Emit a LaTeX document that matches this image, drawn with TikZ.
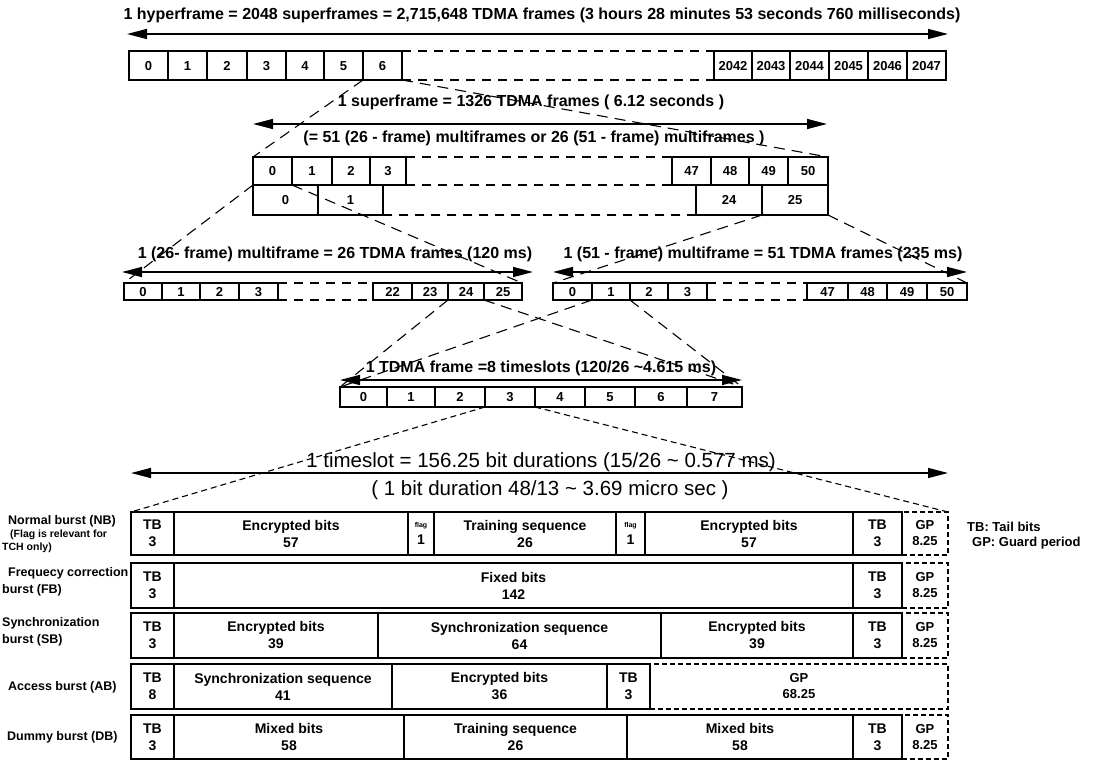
\documentclass[tikz,border=0pt]{standalone}
\usepackage{fontspec}
\setmainfont{Liberation Sans}
\usetikzlibrary{arrows.meta}
\newcommand\mkcell[7]{\node[#6,minimum width={#3-#2},minimum height={#5-#4},anchor=north west] (#1) at (#2,#4) {#7};}
\begin{document}
\begin{tikzpicture}[x=1pt,y=-1pt,
  boxbase/.style={draw,line width=1.1pt,inner sep=0pt,outer sep=0pt,align=center},
  cellbox/.style={boxbase,font=\bfseries\fontsize{13}{15}\selectfont,text height=9.4pt,text depth=0pt},
  bcellbox/.style={boxbase,font=\bfseries\fontsize{14}{17}\selectfont,execute at begin node={\vphantom{d}}},
  gpcellbox/.style={boxbase,dash pattern=on 5pt off 3pt,font=\bfseries\fontsize{13}{16}\selectfont,execute at begin node={\vphantom{d}}},
  captext/.style={font=\bfseries\fontsize{16}{19}\selectfont,inner sep=0pt},
  bigcaptext/.style={font=\fontsize{20.5}{24}\selectfont,inner sep=0pt},
  sidelbl/.style={font=\bfseries\fontsize{12.5}{15}\selectfont,inner sep=0pt,anchor=west},
  sidesmalllbl/.style={font=\bfseries\fontsize{10.5}{12}\selectfont,inner sep=0pt,anchor=west},
  legendlbl/.style={font=\bfseries\fontsize{13}{15}\selectfont,inner sep=0pt,anchor=west},
  dimarrow/.style={line width=1.5pt,{Triangle[length=20pt,width=10pt]}-{Triangle[length=20pt,width=10pt]}},
  rowdash/.style={line width=1.1pt,dash pattern=on 9pt off 7pt},
  connline/.style={line width=1.1pt,dash pattern=on 11pt off 7pt},
  bconnline/.style={line width=1.1pt,dash pattern=on 6pt off 4pt}]
\path[use as bounding box] (0,0) rectangle (1096,762);

% ---------- hyperframe ----------
\node[captext] (title) at (542,15) {1 hyperframe = 2048 superframes = 2,715,648 TDMA frames (3 hours 28 minutes 53 seconds 760 milliseconds)};
\coordinate (hl) at (127,34); \coordinate (hr) at (948,34);
\draw[dimarrow] (hl) -- (hr);
\foreach \n/\a/\b in {0/129/168,1/168/207,2/207/247,3/247/286,4/286/324,5/324/363,6/363/402,2042/714/752,2043/752/790,2044/790/829,2045/829/868,2046/868/907,2047/907/946}
  {\mkcell{h\n}{\a}{\b}{51}{80}{cellbox}{\n}}
\draw[rowdash] (h6.north east) -- (h2042.north west);
\draw[rowdash] (h6.south east) -- (h2042.south west);

% ---------- superframe ----------
\node[captext] (sl1) at (531,102) {1 superframe = 1326 TDMA frames ( 6.12 seconds )};
\coordinate (sal) at (253,124); \coordinate (sar) at (827,124);
\draw[dimarrow] (sal) -- (sar);
\node[captext] (sl2) at (534,138) {(= 51 (26 - frame) multiframes or 26 (51 - frame) multiframes )};
\foreach \n/\a/\b in {0/253/292,1/292/332,2/332/370,3/370/406,47/672/711,48/711/749,49/749/788,50/788/828}
  {\mkcell{sa\n}{\a}{\b}{157}{185}{cellbox}{\n}}
\foreach \n/\a/\b in {0/253/318,1/318/383,24/696/762,25/762/828}
  {\mkcell{sb\n}{\a}{\b}{185}{215}{cellbox}{\n}}
\draw[rowdash] (sa3.north east) -- (sa47.north west);
\draw[rowdash] (sa3.south east) -- (sa47.south west);
\draw[rowdash] (sb1.south east) -- (sb24.south west);
\draw[connline] (h6.south west) -- (sa0.north west);
\draw[connline] (h6.south east) -- (sa50.north east);

% ---------- multiframes ----------
\node[captext] (ml1) at (335,254) {1 (26- frame) multiframe = 26 TDMA frames (120 ms)};
\coordinate (mal) at (122,272); \coordinate (mar) at (533,272);
\draw[dimarrow] (mal) -- (mar);
\foreach \n/\a/\b in {0/124/162,1/162/200,2/200/239,3/239/278,22/373/412,23/412/448,24/448/484,25/484/522}
  {\mkcell{ma\n}{\a}{\b}{283}{300}{cellbox}{\n}}
\draw[rowdash] (ma3.north east) -- (ma22.north west);
\draw[rowdash] (ma3.south east) -- (ma22.south west);

\node[captext] (ml2) at (763,254) {1 (51 - frame) multiframe = 51 TDMA frames (235 ms)};
\coordinate (mbl) at (553,272); \coordinate (mbr) at (967,272);
\draw[dimarrow] (mbl) -- (mbr);
\foreach \n/\a/\b in {0/553/592,1/592/630,2/630/668,3/668/707,47/807/848,48/848/887,49/887/927,50/927/967}
  {\mkcell{mb\n}{\a}{\b}{283}{300}{cellbox}{\n}}
\draw[rowdash] (mb3.north east) -- (mb47.north west);
\draw[rowdash] (mb3.south east) -- (mb47.south west);

\draw[connline] (sa0.south west) -- (ma0.north west);
\draw[connline] (sa0.south east) -- (ma25.north east);
\draw[connline] (sb25.south west) -- (mb0.north west);
\draw[connline] (sb25.south east) -- (mb50.north east);

% ---------- TDMA frame ----------
\node[captext] (tl) at (541,368) {1 TDMA frame =8 timeslots (120/26 \textasciitilde4.615 ms)};
\coordinate (tal) at (340,380); \coordinate (tar) at (742,380);
\draw[dimarrow] (tal) -- (tar);
\foreach \n/\a/\b in {0/340/387,1/387/435,2/435/485,3/485/535,4/535/585,5/585/635,6/635/687,7/687/742}
  {\mkcell{t\n}{\a}{\b}{387}{407}{cellbox}{\n}}
\draw[connline] (ma24.south west) -- (t0.north west);
\draw[connline] (ma24.south east) -- (t7.north east);
\draw[connline] (mb1.south west) -- (t0.north west);
\draw[connline] (mb1.south east) -- (t7.north east);

% ---------- timeslot ----------
\node[bigcaptext] (bl1) at (541,462) {1 timeslot = 156.25 bit durations (15/26 \textasciitilde\ 0.577 ms)};
\coordinate (bal) at (131,473); \coordinate (bar) at (948,473);
\draw[dimarrow] (bal) -- (bar);
\node[bigcaptext] (bl2) at (550,490) {( 1 bit duration 48/13 \textasciitilde\ 3.69 micro sec )};

% Normal burst
\mkcell{nb1}{131}{174}{512}{555}{bcellbox}{TB\\3}
\mkcell{nb2}{174}{408}{512}{555}{bcellbox}{Encrypted bits\\57}
\mkcell{nb3}{408}{434}{512}{555}{bcellbox}{{\fontsize{7}{8}\selectfont flag}\\1}
\mkcell{nb4}{434}{616}{512}{555}{bcellbox}{Training sequence\\26}
\mkcell{nb5}{616}{645}{512}{555}{bcellbox}{{\fontsize{7}{8}\selectfont flag}\\1}
\mkcell{nb6}{645}{853}{512}{555}{bcellbox}{Encrypted bits\\57}
\mkcell{nb7}{853}{902}{512}{555}{bcellbox}{TB\\3}
\mkcell{nb8}{902}{948}{512}{555}{gpcellbox}{GP\\8.25}
\draw[bconnline] (t3.south west) -- (nb1.north west);
\draw[bconnline] (t3.south east) -- (nb8.north east);

% Frequency correction burst
\mkcell{fb1}{131}{174}{563}{608}{bcellbox}{TB\\3}
\mkcell{fb2}{174}{853}{563}{608}{bcellbox}{Fixed bits\\142}
\mkcell{fb3}{853}{902}{563}{608}{bcellbox}{TB\\3}
\mkcell{fb4}{902}{948}{563}{608}{gpcellbox}{GP\\8.25}

% Synchronization burst
\mkcell{sbb1}{131}{174}{613}{658}{bcellbox}{TB\\3}
\mkcell{sbb2}{174}{378}{613}{658}{bcellbox}{Encrypted bits\\39}
\mkcell{sbb3}{378}{661}{613}{658}{bcellbox}{Synchronization sequence\\64}
\mkcell{sbb4}{661}{853}{613}{658}{bcellbox}{Encrypted bits\\39}
\mkcell{sbb5}{853}{902}{613}{658}{bcellbox}{TB\\3}
\mkcell{sbb6}{902}{948}{613}{658}{gpcellbox}{GP\\8.25}

% Access burst
\mkcell{ab1}{131}{174}{664}{709}{bcellbox}{TB\\8}
\mkcell{ab2}{174}{392}{664}{709}{bcellbox}{Synchronization sequence\\41}
\mkcell{ab3}{392}{607}{664}{709}{bcellbox}{Encrypted bits\\36}
\mkcell{ab4}{607}{650}{664}{709}{bcellbox}{TB\\3}
\mkcell{ab5}{650}{948}{664}{709}{gpcellbox}{GP\\68.25}

% Dummy burst
\mkcell{db1}{131}{174}{715}{759}{bcellbox}{TB\\3}
\mkcell{db2}{174}{404}{715}{759}{bcellbox}{Mixed bits\\58}
\mkcell{db3}{404}{627}{715}{759}{bcellbox}{Training sequence\\26}
\mkcell{db4}{627}{853}{715}{759}{bcellbox}{Mixed bits\\58}
\mkcell{db5}{853}{902}{715}{759}{bcellbox}{TB\\3}
\mkcell{db6}{902}{948}{715}{759}{gpcellbox}{GP\\8.25}

% side labels
\node[sidelbl] (nbl) at (8,521) {Normal burst (NB)};
\node[sidesmalllbl] (nbl2) at (10,535) {(Flag is relevant for};
\node[sidesmalllbl] (nbl3) at (2,548) {TCH only)};
\node[sidelbl] (fbl) at (8,573) {Frequecy correction};
\node[sidelbl] (fbl2) at (2,590) {burst (FB)};
\node[sidelbl] (sbl) at (2,623) {Synchronization};
\node[sidelbl] (sbl2) at (2,640) {burst (SB)};
\node[sidelbl] (abl) at (8,687) {Access burst (AB)};
\node[sidelbl] (dbl) at (7,737) {Dummy burst (DB)};
\node[legendlbl] (lg1) at (967,527) {TB: Tail bits};
\node[legendlbl] (lg2) at (972,543) {GP: Guard period};
\end{tikzpicture}
\end{document}
